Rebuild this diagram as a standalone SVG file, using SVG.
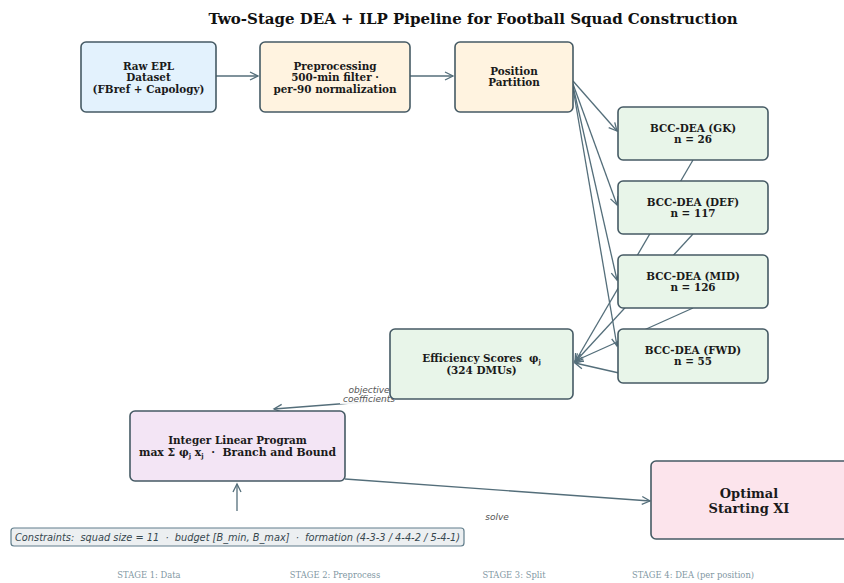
<svg xmlns="http://www.w3.org/2000/svg" width="844" height="583" viewBox="0 0 844 583">
<style>
.node{stroke:#455a64;stroke-width:1.6}
.t{font-family:"DejaVu Serif","Liberation Serif",serif;font-weight:bold;font-size:10.4px;fill:#1a1a1a;text-anchor:middle;white-space:pre}
.big{font-size:13px}
.c{fill:none;stroke:#546e7a;stroke-width:1.3}
.lab{font-family:"DejaVu Sans","Liberation Sans",sans-serif;font-style:italic;font-size:9px;fill:#555;text-anchor:middle}
.stage{font-family:"DejaVu Serif","Liberation Serif",serif;font-size:8.4px;fill:#7f97a3;text-anchor:middle}
</style>
<defs>
<marker id="ah" markerUnits="userSpaceOnUse" markerWidth="12" markerHeight="12" refX="9" refY="5" orient="auto">
<path d="M1,1 L9,5 L1,9" fill="none" stroke="#546e7a" stroke-width="1.3"/>
</marker>
</defs>
<rect width="844" height="583" fill="#ffffff"/>
<text x="473" y="24" font-family="DejaVu Serif, Liberation Serif, serif" font-weight="bold" font-size="15" text-anchor="middle" fill="#111">Two-Stage DEA + ILP Pipeline for Football Squad Construction</text>

<g id="connectors">
<path class="c" d="M216,76 L258,76" marker-end="url(#ah)"/>
<path class="c" d="M410,76 L453,76" marker-end="url(#ah)"/>
<path class="c" d="M573,81 L617,131" marker-end="url(#ah)"/>
<path class="c" d="M573,84 L617,205" marker-end="url(#ah)"/>
<path class="c" d="M573,86 L617,280" marker-end="url(#ah)"/>
<path class="c" d="M573,88 L617,346" marker-end="url(#ah)"/>
<path class="c" d="M693,160 L575,362" marker-end="url(#ah)"/>
<path class="c" d="M693,234 L575,362" marker-end="url(#ah)"/>
<path class="c" d="M693,308 L575,361" marker-end="url(#ah)"/>
<path class="c" d="M619,373 L575,363" marker-end="url(#ah)"/>
<path class="c" d="M390,400 L274,409" marker-end="url(#ah)"/>
<path class="c" d="M345,479 L650,501" marker-end="url(#ah)"/>
<path class="c" d="M237,511 L237,484" marker-end="url(#ah)"/>
<rect x="340" y="384" width="57" height="20" fill="#ffffff" opacity="0.9"/>
<text class="lab" x="369" y="393">objective</text>
<text class="lab" x="369" y="402">coefficients</text>
<text class="lab" x="497" y="520">solve</text>
</g>

<g id="raw">
<rect class="node" x="81" y="42" width="135" height="70" rx="5" fill="#e3f2fd"/>
<text class="t" x="148.5" y="69.5">Raw EPL</text>
<text class="t" x="148.5" y="81">Dataset</text>
<text class="t" x="148.5" y="92.5">(FBref + Capology)</text>
</g>
<g id="prep">
<rect class="node" x="260" y="42" width="150" height="70" rx="5" fill="#fff3e0"/>
<text class="t" x="335" y="69.5">Preprocessing</text>
<text class="t" x="335" y="81">500-min filter ·</text>
<text class="t" x="335" y="92.5">per-90 normalization</text>
</g>
<g id="partition">
<rect class="node" x="455" y="42" width="118" height="70" rx="5" fill="#fff3e0"/>
<text class="t" x="514" y="74.5">Position</text>
<text class="t" x="514" y="86">Partition</text>
</g>
<g id="gk">
<rect class="node" x="618" y="107" width="150" height="53" rx="5" fill="#e8f5e9"/>
<text class="t" x="693" y="131.5">BCC-DEA (GK)</text>
<text class="t" x="693" y="143">n = 26</text>
</g>
<g id="def">
<rect class="node" x="618" y="181" width="150" height="53" rx="5" fill="#e8f5e9"/>
<text class="t" x="693" y="205.5">BCC-DEA (DEF)</text>
<text class="t" x="693" y="217">n = 117</text>
</g>
<g id="mid">
<rect class="node" x="618" y="255" width="150" height="53" rx="5" fill="#e8f5e9"/>
<text class="t" x="693" y="279.5">BCC-DEA (MID)</text>
<text class="t" x="693" y="291">n = 126</text>
</g>
<g id="fwd">
<rect class="node" x="618" y="329" width="150" height="54" rx="5" fill="#e8f5e9"/>
<text class="t" x="693" y="353.5">BCC-DEA (FWD)</text>
<text class="t" x="693" y="365">n = 55</text>
</g>
<g id="efficiency">
<rect class="node" x="390" y="329" width="183" height="70" rx="5" fill="#e8f5e9"/>
<text class="t" x="481.5" y="361.5">Efficiency Scores  φ<tspan font-size="6.5" dy="2">j</tspan></text>
<text class="t" x="481.5" y="374">(324 DMUs)</text>
</g>
<g id="ilp">
<rect class="node" x="130" y="411" width="215" height="70" rx="5" fill="#f3e5f5"/>
<text class="t" x="237.5" y="443.5">Integer Linear Program</text>
<text class="t" x="237.5" y="455.5" style="font-size:10.8px">max Σ φ<tspan font-size="6.5" dy="2">j</tspan><tspan dy="-2"> x</tspan><tspan font-size="6.5" dy="2">j</tspan><tspan dy="-2">  ·  Branch and Bound</tspan></text>
</g>
<g id="optimal">
<rect class="node" x="651" y="461" width="200" height="78" rx="5" fill="#fce4ec"/>
<text class="t big" x="749" y="497.5">Optimal</text>
<text class="t big" x="749" y="512.5">Starting XI</text>
</g>
<g id="constraints">
<rect x="11" y="528" width="453" height="18" rx="3" fill="#eceff1" stroke="#607d8b" stroke-width="1.2"/>
<text x="237.5" y="540.5" font-family="DejaVu Sans, Liberation Sans, sans-serif" font-style="italic" font-size="9.8" fill="#37474f" text-anchor="middle" style="white-space:pre">Constraints:  squad size = 11  ·  budget [B_min, B_max]  ·  formation (4-3-3 / 4-4-2 / 5-4-1)</text>
</g>
<g id="stages">
<text class="stage" x="149" y="578">STAGE 1: Data</text>
<text class="stage" x="335" y="578">STAGE 2: Preprocess</text>
<text class="stage" x="514" y="578">STAGE 3: Split</text>
<text class="stage" x="693" y="578">STAGE 4: DEA (per position)</text>
</g>
</svg>
